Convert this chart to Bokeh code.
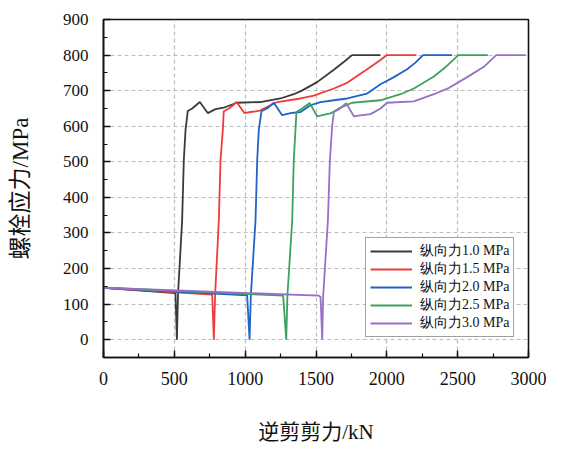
from bokeh.plotting import figure
from bokeh.models import SingleIntervalTicker, Range1d, Legend, LegendItem
from bokeh.embed import file_html
from bokeh.resources import INLINE

series_names = ["纵向力1.0 MPa", "纵向力1.5 MPa", "纵向力2.0 MPa", "纵向力2.5 MPa", "纵向力3.0 MPa"]
series_colors = ["#3a3a3a", "#ee3b3b", "#1f63c6", "#3aa25e", "#9670c6"]

x_10 = [0, 508, 518, 526, 555, 567, 579, 595, 626, 680, 736, 791, 849, 939, 1108, 1249, 1343, 1400, 1508, 1626, 1700, 1755, 1955]
y_10 = [146, 131, 0, 128, 335, 505, 589, 643, 650, 668, 637, 648, 652, 666, 668, 678, 690, 700, 724, 759, 782, 800, 800]

x_15 = [0, 767, 779, 788, 814, 826, 842, 849, 885, 908, 939, 995, 1038, 1096, 1179, 1226, 1391, 1485, 1626, 1720, 1861, 1940, 2002, 2209]
y_15 = [146, 127, 0, 127, 335, 505, 589, 642, 650, 657, 668, 637, 640, 643, 659, 668, 678, 686, 706, 722, 760, 782, 800, 800]

x_20 = [0, 1014, 1031, 1040, 1073, 1085, 1096, 1115, 1155, 1202, 1261, 1320, 1391, 1461, 1532, 1626, 1720, 1861, 1955, 2050, 2143, 2200, 2256, 2461]
y_20 = [146, 125, 0, 124, 335, 505, 589, 642, 650, 666, 631, 637, 640, 659, 668, 673, 678, 692, 718, 738, 760, 778, 800, 800]

x_25 = [0, 1268, 1290, 1298, 1332, 1343, 1355, 1362, 1402, 1456, 1508, 1544, 1602, 1661, 1755, 1955, 2096, 2191, 2332, 2420, 2505, 2713]
y_25 = [146, 124, 0, 122, 335, 505, 589, 640, 650, 665, 628, 631, 636, 650, 666, 673, 690, 706, 740, 768, 800, 800]

x_30 = [0, 1520, 1532, 1544, 1550, 1584, 1598, 1614, 1626, 1661, 1713, 1767, 1826, 1885, 1955, 2002, 2191, 2332, 2440, 2567, 2685, 2772, 2979]
y_30 = [146, 124, 120, 0, 118, 335, 505, 600, 640, 647, 665, 628, 631, 634, 650, 666, 670, 690, 708, 738, 767, 800, 800]

xs = [x_10, x_15, x_20, x_25, x_30]
ys = [y_10, y_15, y_20, y_25, y_30]

x_label = "逆剪剪力/kN"
y_label = "螺栓应力/MPa"

FONT = "'Liberation Serif', 'Noto Sans CJK SC'"

p = figure(width=565, height=448, output_backend="svg", toolbar_location=None,
           x_range=Range1d(0, 3000), y_range=Range1d(-50, 900),
           min_border_left=103, min_border_right=37, min_border_top=19, min_border_bottom=91)

p.outline_line_color = "#111111"
p.outline_line_width = 1.6
p.background_fill_color = "white"
p.border_fill_color = "white"

p.xaxis.ticker = SingleIntervalTicker(interval=500, num_minor_ticks=2)
p.yaxis.ticker = SingleIntervalTicker(interval=100, num_minor_ticks=2)

for ax in (p.xaxis[0], p.yaxis[0]):
    ax.axis_line_color = "#111111"
    ax.axis_line_width = 1.6
    ax.major_tick_in = 7
    ax.major_tick_out = 0
    ax.minor_tick_in = 4
    ax.minor_tick_out = 0
    ax.major_tick_line_color = "#111111"
    ax.minor_tick_line_color = "#111111"
    ax.major_tick_line_width = 1.4
    ax.minor_tick_line_width = 1.2
    ax.major_label_text_font = "Liberation Serif"
    ax.major_label_text_color = "#111111"
    ax.axis_label_text_font = FONT
    ax.axis_label_text_font_style = "normal"
    ax.axis_label_text_color = "#111111"

p.xaxis.major_label_text_font_size = "18px"
p.yaxis.major_label_text_font_size = "17px"
p.xaxis.major_label_standoff = 14
p.yaxis.major_label_standoff = 15
p.xaxis.axis_label = x_label
p.yaxis.axis_label = y_label
p.xaxis.axis_label_text_font_size = "21px"
p.yaxis.axis_label_text_font_size = "23px"
p.xaxis.axis_label_standoff = 32
p.yaxis.axis_label_standoff = 27

p.xgrid.grid_line_color = "#bdbdbd"
p.ygrid.grid_line_color = "#bdbdbd"
p.xgrid.grid_line_dash = "4 3"
p.ygrid.grid_line_dash = "4 3"
p.xgrid.grid_line_width = 1.2
p.ygrid.grid_line_width = 1.2

items = []
for name, color, x, y in zip(series_names, series_colors, xs, ys):
    r = p.line(x, y, line_color=color, line_width=1.8)
    items.append(LegendItem(label=name, renderers=[r]))

legend = Legend(items=items, location=(262, 20))
legend.label_text_font = "Liberation Serif"
legend.label_text_font_size = "14px"
legend.label_text_color = "#111111"
legend.glyph_width = 42
legend.glyph_height = 14
legend.label_height = 14
legend.label_standoff = 8
legend.spacing = 0
legend.padding = 4
legend.margin = 0
legend.border_line_color = "#444444"
legend.border_line_width = 1.2
legend.background_fill_color = "white"
legend.background_fill_alpha = 1.0
p.add_layout(legend, "center")

open("out.html", "w").write(file_html(p, INLINE))
